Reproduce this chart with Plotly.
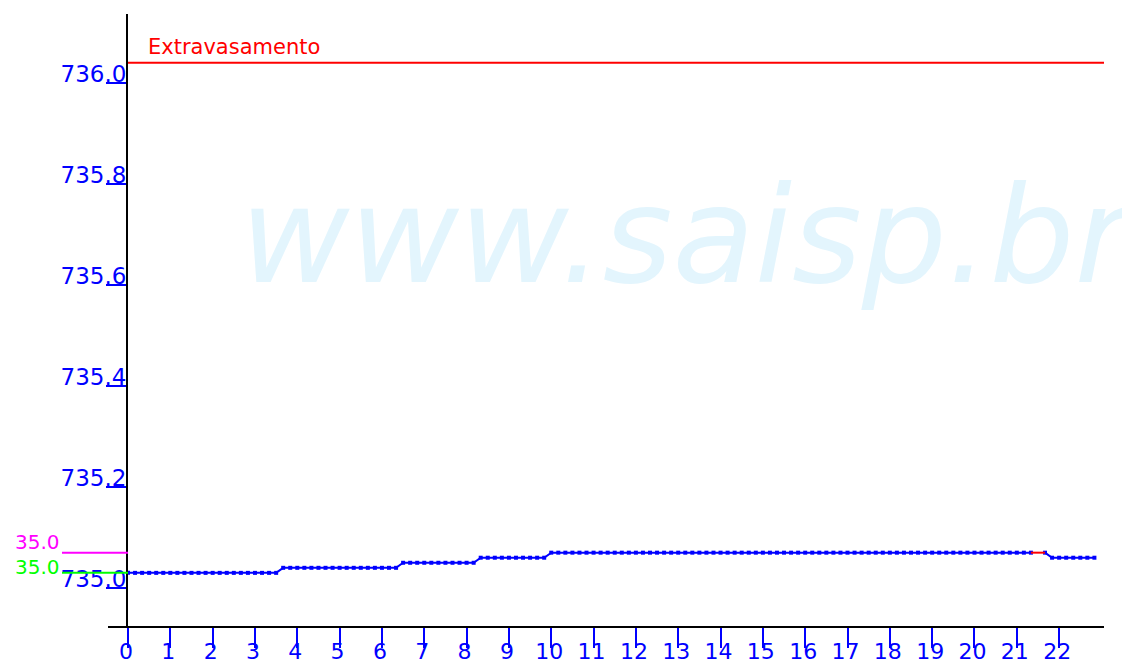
import plotly.graph_objects as go

# time of each reading, minutes after midnight (10-minute readings)
minutes = [
    0, 10, 20, 30, 40, 50,
    60, 70, 80, 90, 100, 110,
    120, 130, 140, 150, 160, 170,
    180, 190, 200, 210, 220, 230,
    240, 250, 260, 270, 280, 290,
    300, 310, 320, 330, 340, 350,
    360, 370, 380, 390, 400, 410,
    420, 430, 440, 450, 460, 470,
    480, 490, 500, 510, 520, 530,
    540, 550, 560, 570, 580, 590,
    600, 610, 620, 630, 640, 650,
    660, 670, 680, 690, 700, 710,
    720, 730, 740, 750, 760, 770,
    780, 790, 800, 810, 820, 830,
    840, 850, 860, 870, 880, 890,
    900, 910, 920, 930, 940, 950,
    960, 970, 980, 990, 1000, 1010,
    1020, 1030, 1040, 1050, 1060, 1070,
    1080, 1090, 1100, 1110, 1120, 1130,
    1140, 1150, 1160, 1170, 1180, 1190,
    1200, 1210, 1220, 1230, 1240, 1250,
    1260, 1270, 1280, 1290, 1300, 1310,
    1320, 1330, 1340, 1350, 1360, 1370,
]

# water level readings (m)
level = [
    735.03, 735.03, 735.03, 735.03, 735.03, 735.03,
    735.03, 735.03, 735.03, 735.03, 735.03, 735.03,
    735.03, 735.03, 735.03, 735.03, 735.03, 735.03,
    735.03, 735.03, 735.03, 735.03, 735.04, 735.04,
    735.04, 735.04, 735.04, 735.04, 735.04, 735.04,
    735.04, 735.04, 735.04, 735.04, 735.04, 735.04,
    735.04, 735.04, 735.04, 735.05, 735.05, 735.05,
    735.05, 735.05, 735.05, 735.05, 735.05, 735.05,
    735.05, 735.05, 735.06, 735.06, 735.06, 735.06,
    735.06, 735.06, 735.06, 735.06, 735.06, 735.06,
    735.07, 735.07, 735.07, 735.07, 735.07, 735.07,
    735.07, 735.07, 735.07, 735.07, 735.07, 735.07,
    735.07, 735.07, 735.07, 735.07, 735.07, 735.07,
    735.07, 735.07, 735.07, 735.07, 735.07, 735.07,
    735.07, 735.07, 735.07, 735.07, 735.07, 735.07,
    735.07, 735.07, 735.07, 735.07, 735.07, 735.07,
    735.07, 735.07, 735.07, 735.07, 735.07, 735.07,
    735.07, 735.07, 735.07, 735.07, 735.07, 735.07,
    735.07, 735.07, 735.07, 735.07, 735.07, 735.07,
    735.07, 735.07, 735.07, 735.07, 735.07, 735.07,
    735.07, 735.07, 735.07, 735.07, 735.07, 735.07,
    735.07, 735.07, 735.07, None, 735.07, 735.06,
    735.06, 735.06, 735.06, 735.06, 735.06, 735.06,
]

# gap segment (drawn red)
gap_minutes = [1280, 1300]
gap_level = [735.07, 735.07]

# reference levels
overflow_level = 736.04
overflow_label = "Extravasamento"
magenta_level = 735.07
green_level = 735.03
magenta_label = "35.0"
green_label = "35.0"

x_tickvals = [0, 60, 120, 180, 240, 300, 360, 420, 480, 540, 600, 660,
              720, 780, 840, 900, 960, 1020, 1080, 1140, 1200, 1260, 1320]
x_ticktext = ["0", "1", "2", "3", "4", "5", "6", "7", "8", "9", "10", "11",
              "12", "13", "14", "15", "16", "17", "18", "19", "20", "21", "22"]
y_tickvals = [735.0, 735.2, 735.4, 735.6, 735.8, 736.0]
y_ticktext = ["735.0", "735.2", "735.4", "735.6", "735.8", "736.0"]

# page has an 8px body margin; figure sized so plot sits at page x 128..1104, y 14..627
OFF = 8
W, H = 1122, 658
L, R, T, B = 120, 26, 6, 39
PW, PH = W - L - R, H - T - B


def px(xpage):
    return (xpage - OFF - L) / PW


def py(ypage):
    return (H - B - (ypage - OFF)) / PH


BLUE = "#0000ff"
FONT = "DejaVu Sans"

fig = go.Figure()

fig.add_trace(go.Scatter(
    x=minutes, y=level, mode="lines+markers",
    line=dict(color=BLUE, width=2),
    marker=dict(symbol="square", size=4, color=BLUE),
    connectgaps=False, hoverinfo="skip", showlegend=False,
))
fig.add_trace(go.Scatter(
    x=gap_minutes, y=gap_level, mode="lines",
    line=dict(color="#ff0000", width=2),
    hoverinfo="skip", showlegend=False,
))

shapes = [
    dict(type="line", xref="paper", yref="y", x0=0, x1=1,
         y0=overflow_level, y1=overflow_level,
         line=dict(color="#ff0000", width=2)),
    dict(type="line", xref="paper", yref="y", x0=px(62), x1=0,
         y0=magenta_level, y1=magenta_level,
         line=dict(color="#ff00ff", width=2)),
    dict(type="line", xref="paper", yref="y", x0=px(62), x1=0,
         y0=green_level, y1=green_level,
         line=dict(color="#00ff00", width=2)),
    dict(type="line", xref="paper", yref="paper", x0=px(108), x1=1,
         y0=0, y1=0, line=dict(color="black", width=2)),
]

annotations = [
    dict(text="www.saisp.br", xref="paper", yref="paper",
         x=px(238), y=py(236), xanchor="left", yanchor="middle",
         showarrow=False,
         font=dict(family="DejaVu Sans", size=134, color="#e3f5fd", style="italic")),
    dict(text=overflow_label, xref="paper", yref="paper",
         x=px(146), y=py(47), xanchor="left", yanchor="middle",
         showarrow=False, font=dict(family=FONT, size=21, color="#ff0000")),
    dict(text=magenta_label, xref="paper", yref="paper",
         x=px(62), y=py(542), xanchor="right", yanchor="middle",
         showarrow=False, font=dict(family=FONT, size=20, color="#ff00ff")),
    dict(text=green_label, xref="paper", yref="paper",
         x=px(62), y=py(567), xanchor="right", yanchor="middle",
         showarrow=False, font=dict(family=FONT, size=20, color="#00ff00")),
]

fig.update_layout(
    width=W, height=H,
    margin=dict(l=L, r=R, t=T, b=B, pad=0, autoexpand=False),
    paper_bgcolor="white", plot_bgcolor="white",
    shapes=shapes, annotations=annotations,
    xaxis=dict(
        range=[0, 1383.6], tickmode="array", tickvals=x_tickvals, ticktext=x_ticktext,
        showgrid=False, zeroline=False, showline=False, automargin=False,
        ticks="outside", ticklen=20, tickwidth=2, tickcolor=BLUE,
        tickfont=dict(family=FONT, size=22, color=BLUE),
        ticklabelstandoff=-15, ticklabelshift=-2,
    ),
    yaxis=dict(
        range=[734.9228, 736.1367], tickmode="array", tickvals=y_tickvals, ticktext=y_ticktext,
        showgrid=False, zeroline=False, showline=True, linecolor="black", linewidth=2,
        automargin=False,
        ticks="outside", ticklen=20, tickwidth=2, tickcolor=BLUE,
        tickfont=dict(family=FONT, size=23, color=BLUE),
        ticklabelstandoff=-25, ticklabelshift=-9,
    ),
)

fig.write_html("out.html")
